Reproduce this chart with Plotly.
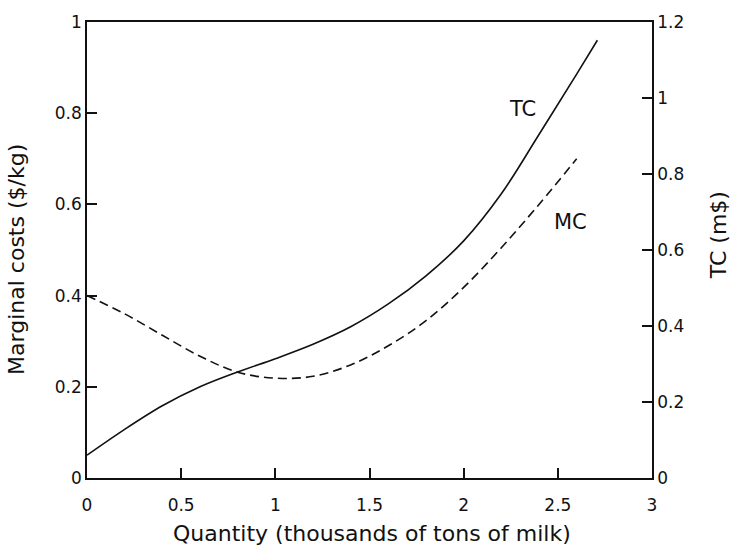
import plotly.graph_objects as go

# Quantity (thousands of tons of milk)
quantity_tc = [0.0, 0.2, 0.4, 0.6, 0.8, 1.0, 1.2, 1.4, 1.6, 1.8, 2.0, 2.2, 2.4, 2.6, 2.71]
# Total cost (m$), right axis
total_cost = [0.06, 0.128, 0.19, 0.24, 0.279, 0.314, 0.352, 0.398, 0.458, 0.532, 0.624, 0.748, 0.904, 1.063, 1.152]

quantity_mc = [0.0, 0.2, 0.4, 0.6, 0.8, 1.0, 1.2, 1.4, 1.6, 1.8, 2.0, 2.2, 2.4, 2.6]
# Marginal cost ($/kg), left axis
marginal_cost = [0.40, 0.36, 0.313, 0.267, 0.232, 0.219, 0.223, 0.248, 0.29, 0.345, 0.418, 0.505, 0.60, 0.70]

x_ticks = [0, 0.5, 1, 1.5, 2, 2.5, 3]
x_ticktext = ["0", "0.5", "1", "1.5", "2", "2.5", "3"]
mc_ticks = [0, 0.2, 0.4, 0.6, 0.8, 1]
mc_ticktext = ["0", "0.2", "0.4", "0.6", "0.8", "1"]
tc_ticks = [0, 0.2, 0.4, 0.6, 0.8, 1, 1.2]
tc_ticktext = ["0", "0.2", "0.4", "0.6", "0.8", "1", "1.2"]

FONT = "DejaVu Sans"
INK = "#111111"

fig = go.Figure()
fig.add_trace(go.Scatter(
    x=quantity_mc, y=marginal_cost, mode="lines", yaxis="y",
    line=dict(color=INK, width=1.6, dash="9px,5px", shape="spline", smoothing=1.0),
    showlegend=False, hoverinfo="skip",
))
fig.add_trace(go.Scatter(
    x=quantity_tc, y=total_cost, mode="lines", yaxis="y2",
    line=dict(color=INK, width=1.6, shape="spline", smoothing=1.0),
    showlegend=False, hoverinfo="skip",
))

# curve labels
fig.add_annotation(x=2.31, y=0.81, xref="x", yref="y", text="TC", showarrow=False,
                   font=dict(family=FONT, size=21, color=INK))
fig.add_annotation(x=2.565, y=0.561, xref="x", yref="y", text="MC", showarrow=False,
                   font=dict(family=FONT, size=21, color=INK))

# axis titles, placed in paper coordinates so the plot area stays fixed
title_font = dict(family=FONT, size=22, color=INK)
fig.add_annotation(x=0.505, y=-0.1215, xref="paper", yref="paper",
                   text="Quantity (thousands of tons of milk)", showarrow=False,
                   xanchor="center", yanchor="middle", font=title_font)
fig.add_annotation(x=-0.1239, y=0.4805, xref="paper", yref="paper",
                   text="Marginal costs ($/kg)", showarrow=False, textangle=-90,
                   xanchor="center", yanchor="middle", font=title_font)
fig.add_annotation(x=1.1168, y=0.5325, xref="paper", yref="paper",
                   text="TC (m$)", showarrow=False, textangle=-90,
                   xanchor="center", yanchor="middle", font=title_font)

axis_common = dict(
    showgrid=False, zeroline=False, showline=True, linecolor=INK, linewidth=1.6,
    ticks="inside", ticklen=10, tickwidth=2, tickcolor=INK,
    tickfont=dict(family=FONT, size=17, color=INK),
)

fig.update_layout(
    width=736, height=549,
    margin=dict(l=87, r=84, t=17, b=71),
    paper_bgcolor="white", plot_bgcolor="white",
    xaxis=dict(
        range=[0, 3], tickvals=x_ticks, ticktext=x_ticktext, mirror=True,
        ticklabelstandoff=11,
        **axis_common,
    ),
    yaxis=dict(
        range=[0, 1], tickvals=mc_ticks, ticktext=mc_ticktext,
        **axis_common,
    ),
    yaxis2=dict(
        range=[0, 1.2], tickvals=tc_ticks, ticktext=tc_ticktext,
        overlaying="y", side="right",
        **axis_common,
    ),
)

fig.write_html("out.html")
